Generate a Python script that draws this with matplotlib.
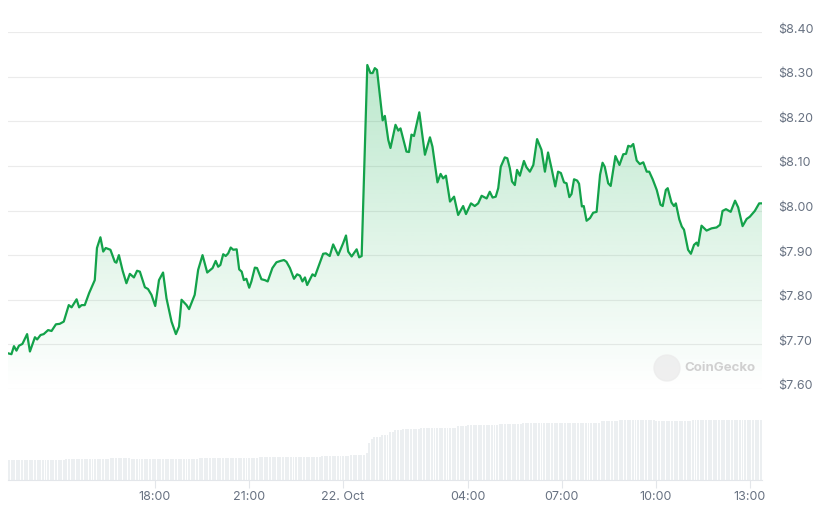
import numpy as np
import matplotlib
matplotlib.use("Agg")
import matplotlib.pyplot as plt
from matplotlib.patches import Ellipse
from matplotlib.transforms import ScaledTranslation

plt.rcParams["font.family"] = ["Inter", "DejaVu Sans"]

# hours relative to 22 Oct 00:00
hours = [-10.68, -10.57, -10.49, -10.41, -10.33, -10.22, -10.07, -9.98, -9.82, -9.75,
         -9.64, -9.54, -9.40, -9.29, -9.15, -9.03, -8.90, -8.74, -8.65, -8.49,
         -8.41, -8.33, -8.23, -8.09, -7.91, -7.84, -7.73, -7.64, -7.56, -7.41,
         -7.27, -7.22, -7.14, -7.02, -6.90, -6.79, -6.66, -6.56, -6.47, -6.31,
         -6.21, -6.10, -5.98, -5.86, -5.73, -5.62, -5.46, -5.32, -5.22, -5.14,
         -4.98, -4.90, -4.72, -4.61, -4.47, -4.32, -4.15, -4.05, -3.97, -3.90,
         -3.81, -3.73, -3.65, -3.57, -3.49, -3.38, -3.30, -3.22, -3.15, -3.07,
         -2.98, -2.91, -2.80, -2.73, -2.59, -2.48, -2.39, -2.24, -2.11, -1.98,
         -1.87, -1.79, -1.68, -1.55, -1.45, -1.36, -1.28, -1.20, -1.13, -0.96,
         -0.88, -0.75, -0.62, -0.53, -0.41, -0.30, -0.14, 0.02, 0.11, 0.18,
         0.29, 0.45, 0.53, 0.61, 0.79, 0.89, 0.96, 1.03, 1.10, 1.28,
         1.35, 1.46, 1.53, 1.69, 1.78, 1.85, 2.04, 2.12, 2.20, 2.28,
         2.45, 2.63, 2.79, 2.87, 3.03, 3.13, 3.21, 3.30, 3.43, 3.56,
         3.69, 3.85, 3.94, 4.10, 4.22, 4.33, 4.44, 4.60, 4.70, 4.79,
         4.89, 4.97, 5.05, 5.18, 5.26, 5.34, 5.41, 5.50, 5.57, 5.66,
         5.79, 5.87, 5.98, 6.09, 6.21, 6.35, 6.46, 6.56, 6.67, 6.79,
         6.88, 6.97, 7.07, 7.15, 7.24, 7.31, 7.39, 7.49, 7.55, 7.64,
         7.70, 7.79, 7.90, 8.00, 8.11, 8.22, 8.30, 8.37, 8.48, 8.56,
         8.71, 8.84, 8.96, 9.05, 9.12, 9.20, 9.28, 9.39, 9.49, 9.60,
         9.71, 9.79, 9.90, 10.03, 10.15, 10.22, 10.32, 10.38, 10.50, 10.58,
         10.64, 10.75, 10.83, 10.90, 11.03, 11.12, 11.22, 11.30, 11.35, 11.46,
         11.62, 11.78, 11.94, 12.05, 12.13, 12.24, 12.39, 12.53, 12.63, 12.77,
         12.90, 13.00, 13.16, 13.30, 13.39]

prices = [7.680, 7.678, 7.696, 7.686, 7.697, 7.701, 7.723, 7.684, 7.716, 7.711,
          7.721, 7.723, 7.732, 7.730, 7.745, 7.746, 7.751, 7.788, 7.783, 7.801,
          7.783, 7.788, 7.788, 7.815, 7.844, 7.916, 7.940, 7.908, 7.916, 7.912,
          7.885, 7.883, 7.900, 7.865, 7.837, 7.858, 7.850, 7.865, 7.863, 7.828,
          7.824, 7.811, 7.786, 7.844, 7.861, 7.803, 7.751, 7.723, 7.740, 7.800,
          7.788, 7.779, 7.811, 7.867, 7.900, 7.861, 7.871, 7.887, 7.874, 7.878,
          7.902, 7.898, 7.904, 7.917, 7.912, 7.913, 7.868, 7.863, 7.844, 7.847,
          7.827, 7.841, 7.872, 7.871, 7.846, 7.844, 7.841, 7.871, 7.884, 7.887,
          7.889, 7.885, 7.871, 7.847, 7.857, 7.854, 7.841, 7.850, 7.833, 7.857,
          7.853, 7.878, 7.903, 7.904, 7.898, 7.924, 7.900, 7.927, 7.944, 7.908,
          7.897, 7.913, 7.895, 7.898, 8.326, 8.308, 8.308, 8.319, 8.315, 8.202,
          8.212, 8.158, 8.140, 8.192, 8.179, 8.184, 8.132, 8.131, 8.170, 8.167,
          8.220, 8.125, 8.164, 8.143, 8.063, 8.082, 8.072, 8.078, 8.020, 8.031,
          7.990, 8.010, 7.992, 8.016, 8.010, 8.016, 8.033, 8.027, 8.042, 8.029,
          8.031, 8.050, 8.098, 8.119, 8.117, 8.095, 8.065, 8.057, 8.091, 8.078,
          8.111, 8.097, 8.087, 8.102, 8.160, 8.136, 8.087, 8.130, 8.095, 8.054,
          8.087, 8.084, 8.063, 8.061, 8.030, 8.037, 8.070, 8.067, 8.060, 8.009,
          8.010, 7.977, 7.983, 7.995, 7.997, 8.080, 8.107, 8.098, 8.061, 8.055,
          8.122, 8.102, 8.126, 8.127, 8.145, 8.143, 8.149, 8.112, 8.104, 8.108,
          8.087, 8.087, 8.070, 8.046, 8.013, 8.010, 8.046, 8.050, 8.018, 8.010,
          8.016, 7.980, 7.964, 7.957, 7.912, 7.903, 7.923, 7.928, 7.921, 7.966,
          7.955, 7.960, 7.962, 7.968, 7.999, 8.003, 7.997, 8.022, 8.007, 7.965,
          7.981, 7.986, 7.999, 8.016, 8.016]

# volume (millions, arbitrary scale) - level from each start hour onward
vol_start = [-10.69, -8.87, -7.49, -6.79, -4.65, -2.74, -0.72, 0.23, 0.71, 0.78,
             0.87, 0.97, 1.19, 1.42, 1.61, 1.83, 2.47, 3.59, 3.97, 4.93,
             5.67, 8.22, 8.79, 9.97, 10.39, 10.84, 11.09]
vol_level = [2.0, 2.1, 2.2, 2.1, 2.2, 2.27, 2.4, 2.5, 2.7, 3.7,
             4.1, 4.3, 4.5, 4.8, 5.0, 5.1, 5.23, 5.4, 5.5, 5.6,
             5.73, 5.9, 6.0, 5.9, 5.87, 5.93, 6.0]

tick_hours = [-6, -3, 0, 4, 7, 10, 13]
tick_labels = ["18:00", "21:00", "22. Oct", "04:00", "07:00", "10:00", "13:00"]
price_ticks = [7.60, 7.70, 7.80, 7.90, 8.00, 8.10, 8.20, 8.30, 8.40]

green = "#13a24a"
text_col = "#687282"
grid_col = "#ebebeb"

fig = plt.figure(figsize=(8.25, 5.09), dpi=100)
xlim = (hours[0], hours[-1])

# price panel
ax = fig.add_axes([8 / 825, 1 - 389 / 509, 754 / 825, 357 / 509])
ax.set_xlim(*xlim)
ax.set_ylim(7.60, 8.40)
for p in price_ticks:
    ax.axhline(p, color=grid_col, lw=0.8, zorder=0)
ax.plot(hours, prices, color=green, lw=1.6, zorder=3, solid_joinstyle="round")
poly = ax.fill_between(hours, prices, 7.60, color="none", lw=0)
grad = np.zeros((256, 1, 4))
grad[:, 0, :3] = matplotlib.colors.to_rgb("#1fb257")
grad[:, 0, 3] = np.linspace(0.30, 0.0, 256)
top = max(prices)
img = ax.imshow(grad, extent=[xlim[0], xlim[1], 7.60, top], aspect="auto",
                origin="upper", zorder=2)
img.set_clip_path(poly.get_paths()[0], transform=ax.transData)
ax.set_xticks([])
ax.yaxis.tick_right()
ax.set_yticks(price_ticks)
ax.set_yticklabels(["$%.2f" % p for p in price_ticks], color=text_col, fontsize=9)
ax.tick_params(axis="y", length=0, pad=11.5)
shift = ScaledTranslation(0, 4 / 100, fig.dpi_scale_trans)
for lab in ax.get_yticklabels():
    lab.set_transform(lab.get_transform() + shift)
for s in ax.spines.values():
    s.set_visible(False)

# volume panel
vax = fig.add_axes([8 / 825, 1 - 480 / 509, 754 / 825, 80 / 509])
bar_t = np.arange(hours[0], hours[-1], 5 / 60)
idx = np.searchsorted(vol_start, bar_t, side="right") - 1
vols = np.array(vol_level)[np.clip(idx, 0, None)]
vax.bar(bar_t, vols, width=0.062, align="edge", color="#eceff1", lw=0)
vax.set_xlim(*xlim)
vax.set_ylim(0, 8)
vax.set_yticks([])
vax.set_xticks(tick_hours)
vax.set_xticklabels(tick_labels, color=text_col, fontsize=9)
vax.tick_params(axis="x", length=6, color="#e3e6ea", pad=2)
for s in ["top", "left", "right"]:
    vax.spines[s].set_visible(False)
vax.spines["bottom"].set_color("#e3e6ea")

# watermark
fig.patches.append(Ellipse((667 / 825, 1 - 368 / 509), 26 / 825, 26 / 509,
                           transform=fig.transFigure, color="#ececec", alpha=0.8))
fig.text(684 / 825, 1 - 368 / 509, "CoinGecko", fontsize=9.5, color="#d0d0d0",
         va="center", ha="left", fontweight="bold")

fig.savefig("out.png", dpi=100)
